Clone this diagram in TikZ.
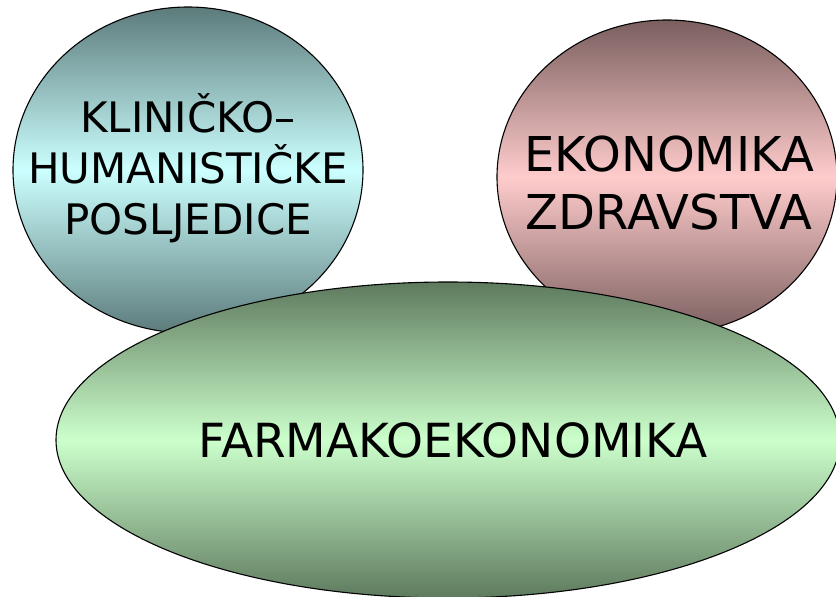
\documentclass[tikz,border=0pt]{standalone}
\usepackage{fontspec}
\setmainfont{DejaVu Sans}
\definecolor{tealdark}{HTML}{5C7B7B}
\definecolor{teallight}{HTML}{CCFFFF}
\definecolor{rosedark}{HTML}{7A5E5E}
\definecolor{roselight}{HTML}{FFCCCC}
\definecolor{greendark}{HTML}{5E7A5E}
\definecolor{greenlight}{HTML}{CCFFCC}
\tikzset{
  blob/.style={draw=black, line width=1.1pt},
  label text/.style={inner sep=0pt, align=center},
}
\begin{document}
\begin{tikzpicture}[x=1pt,y=-1pt]
\useasboundingbox (0,0) rectangle (836,597);
\path[blob, top color=tealdark, bottom color=tealdark, middle color=teallight]
  (188,170) ellipse [x radius=175pt, y radius=163pt];
\node[label text, font=\fontsize{42}{51}\selectfont] (klin) at (188,168)
  {KLINIČKO–\\HUMANISTIČKE\\POSLJEDICE};
\path[blob, top color=rosedark, bottom color=rosedark, middle color=roselight]
  (667,177) ellipse [x radius=170pt, y radius=157pt];
\node[label text, font=\fontsize{48}{58}\selectfont] (ekon) at (669,183)
  {EKONOMIKA\\ZDRAVSTVA};
\path[blob, top color=greendark, bottom color=greendark, middle color=greenlight]
  (448,440) ellipse [x radius=392pt, y radius=158pt];
\node[label text, font=\fontsize{47}{56}\selectfont] (farm) at (453,440)
  {FARMAKOEKONOMIKA};
\end{tikzpicture}
\end{document}
